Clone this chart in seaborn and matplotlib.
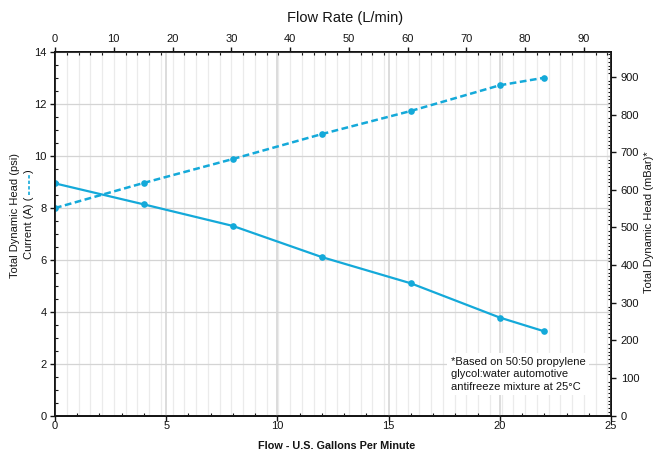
import numpy as np
import pandas as pd
import matplotlib
matplotlib.use("Agg")
import matplotlib.pyplot as plt
import seaborn as sns
from matplotlib.ticker import MultipleLocator, FixedLocator
from matplotlib.lines import Line2D

# ---- data ----
flow_gpm = [0, 4, 8, 12, 16, 20, 22]
head_psi = [8.95, 8.14, 7.31, 6.11, 5.10, 3.78, 3.25]
current_a = [8.00, 8.97, 9.89, 10.85, 11.74, 12.73, 13.02]

x_ticks_gpm = [0, 5, 10, 15, 20, 25]
y_ticks_psi = [0, 2, 4, 6, 8, 10, 12, 14]
top_ticks_lpm = [0, 10, 20, 30, 40, 50, 60, 70, 80, 90]
right_ticks_mbar = [0, 100, 200, 300, 400, 500, 600, 700, 800, 900]

GPM_TO_LPM = 3.78541
PSI_TO_MBAR = 68.9476

note_text = "*Based on 50:50 propylene\nglycol:water automotive\nantifreeze mixture at 25°C"

df = pd.DataFrame({"flow": flow_gpm, "head": head_psi, "current": current_a})

sns.set_theme(style="ticks")
plt.rcParams["font.family"] = ["Liberation Sans", "DejaVu Sans"]

CYAN = "#14a9d9"
INK = "#141414"
FS = 8
W, H = 654, 454
fig = plt.figure(figsize=(W / 100, H / 100), dpi=100, facecolor="white")
ax = fig.add_axes([55 / W, 1 - 415.7 / H, (611 - 55) / W, (415.7 - 52.3) / H])
axt = ax.twiny()
axr = ax.twinx()
ax.set_zorder(5)
ax.patch.set_visible(False)

# data
sns.lineplot(data=df, x="flow", y="head", ax=ax, color=CYAN, linewidth=1.6,
             marker="o", markersize=4.8, markeredgewidth=0, legend=False)
sns.lineplot(data=df, x="flow", y="current", ax=ax, color=CYAN, linewidth=1.8,
             marker="o", markersize=4.8, markeredgewidth=0, legend=False)
ax.lines[-1].set_dashes((2.7, 1.4))

xmax = x_ticks_gpm[-1]
ymax = y_ticks_psi[-1]
ax.set_xlim(0, xmax)
ax.set_ylim(0, ymax)
axt.set_xlim(0, xmax * GPM_TO_LPM)
axr.set_ylim(0, ymax * PSI_TO_MBAR)

ax.xaxis.set_major_locator(FixedLocator(x_ticks_gpm))
ax.yaxis.set_major_locator(FixedLocator(y_ticks_psi))
ax.xaxis.set_minor_locator(MultipleLocator(1))
ax.yaxis.set_minor_locator(MultipleLocator(0.5))
axt.xaxis.set_major_locator(FixedLocator(top_ticks_lpm))
axt.xaxis.set_minor_locator(MultipleLocator(2))
axr.yaxis.set_major_locator(FixedLocator(right_ticks_mbar))
axr.yaxis.set_minor_locator(MultipleLocator(10))

ax.set_xlabel("")
ax.set_ylabel("")

# grids
ax.grid(True, which="major", axis="y", color="#d4d4d4", linewidth=0.9)
ax.grid(True, which="major", axis="x", color="#d6d6d6", linewidth=1.2)
axt.grid(True, which="both", axis="x", color="#ebebeb", linewidth=0.9)
axt.set_axisbelow(True)

for a in (ax, axt, axr):
    for s in a.spines.values():
        s.set_visible(True)
        s.set_color(INK)
        s.set_linewidth(1.2)

tick_kw = dict(labelsize=FS, colors=INK, labelcolor=INK)
ax.tick_params(axis="x", which="major", direction="out", length=3.5, width=1, pad=0.5, top=False, **tick_kw)
ax.tick_params(axis="y", which="major", direction="out", length=3.5, width=1, pad=2.5, right=False, **tick_kw)
ax.tick_params(which="minor", direction="in", length=2.5, width=0.8, top=False, right=False, colors=INK)
axt.tick_params(axis="x", which="major", direction="out", length=3.5, width=1, pad=2.5, **tick_kw)
axt.tick_params(axis="x", which="minor", direction="in", length=2.5, width=0.8, colors=INK)
axr.tick_params(axis="y", which="major", direction="out", length=3.5, width=1, pad=3.5, **tick_kw)
axr.tick_params(axis="y", which="minor", direction="in", length=2.5, width=0.8, colors=INK)

# note with white background
ax.text(17.8, 2.28, note_text, fontsize=FS, color=INK, va="top", ha="left",
        linespacing=1.32, zorder=10,
        bbox=dict(facecolor="white", edgecolor="none", pad=2.5))

# titles / labels
fig.text(345 / W, 1 - 18 / H, "Flow Rate (L/min)", fontsize=10.5, color=INK,
         ha="center", va="center")
fig.text(337 / W, 1 - 446 / H, "Flow - U.S. Gallons Per Minute", fontsize=7.8,
         color=INK, ha="center", va="center", fontweight="bold")
fig.text(649.5 / W, 1 - 222 / H, "Total Dynamic Head (mBar)*", fontsize=FS,
         color=INK, ha="center", va="center", rotation=90)
fig.text(15.5 / W, 1 - 215 / H, "Total Dynamic Head (psi)", fontsize=FS,
         color=INK, ha="center", va="center", rotation=90)
t2 = fig.text(28.5 / W, 1 - 259 / H, "Current (A) (", fontsize=FS,
              color=INK, ha="center", va="bottom", rotation=90)

fig.canvas.draw()
bb = t2.get_window_extent(renderer=fig.canvas.get_renderer())
top_px = bb.y1
cx = (bb.x0 + bb.x1) / 2
line_x = cx / W
y0 = (top_px + 1.5) / H
y1 = (top_px + 23) / H
fig.add_artist(Line2D([line_x, line_x], [y0, y1], transform=fig.transFigure,
                      color=CYAN, linewidth=1.2, dashes=(2.0, 1.3)))
fig.text(28.5 / W, (top_px + 23.5) / H, ")", fontsize=FS, color=INK,
         ha="center", va="bottom", rotation=90)

fig.savefig("out.png", dpi=100, facecolor="white")
